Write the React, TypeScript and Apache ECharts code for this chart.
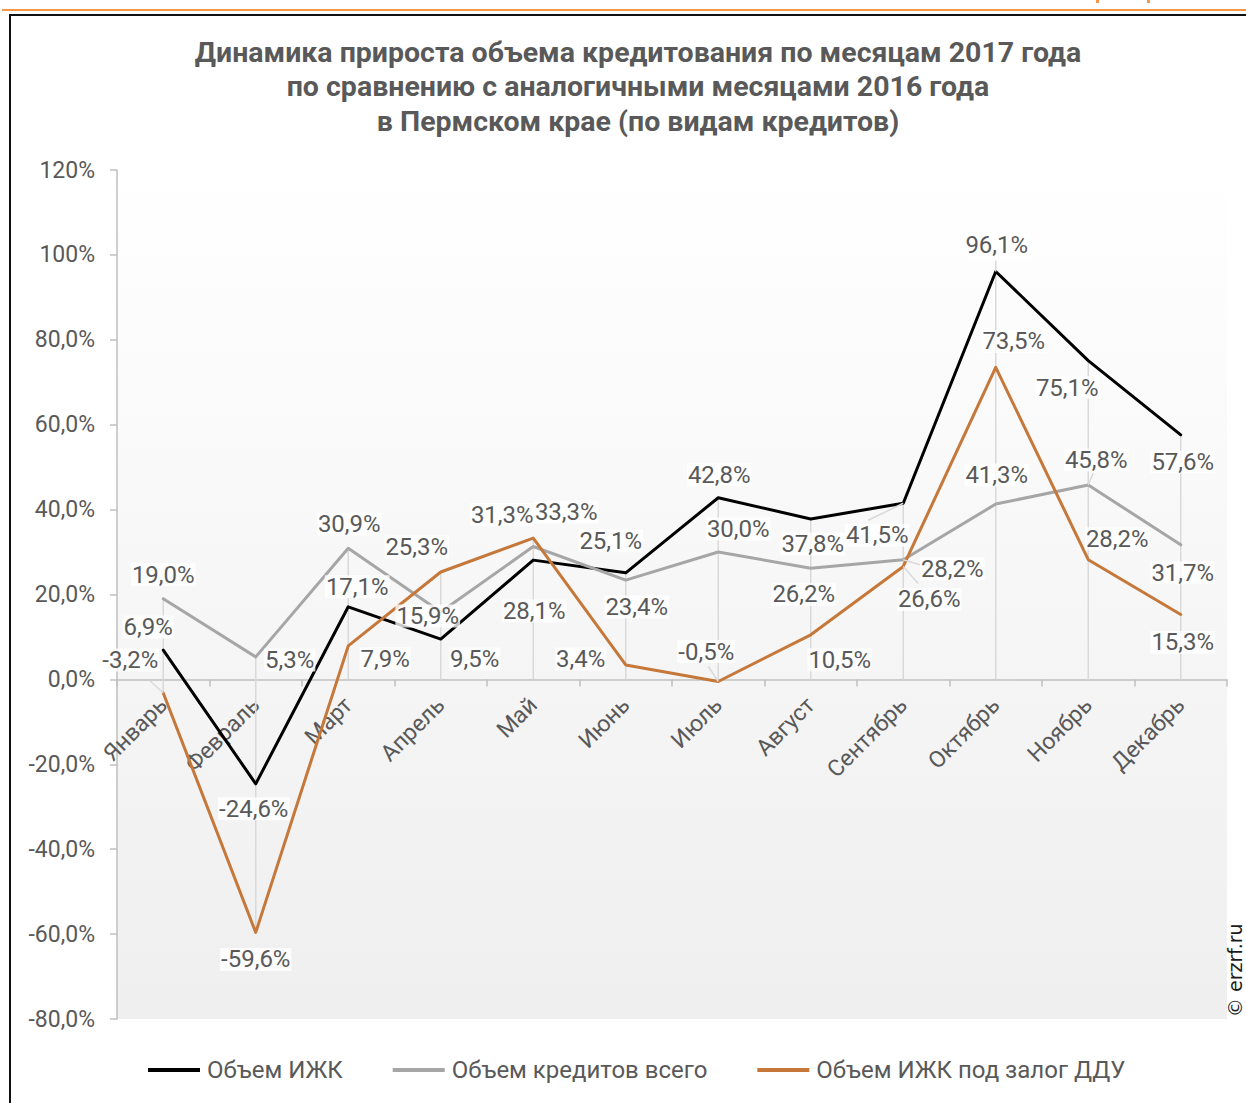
import React, { useEffect, useRef } from "react";
import * as echarts from "echarts";

const categories = ["Январь", "Февраль", "Март", "Апрель", "Май", "Июнь", "Июль", "Август", "Сентябрь", "Октябрь", "Ноябрь", "Декабрь"];
const seriesNames = ["Объем ИЖК", "Объем кредитов всего", "Объем ИЖК под залог ДДУ"];
const izhk = [6.9, -24.6, 17.1, 9.5, 28.1, 25.1, 42.8, 37.8, 41.5, 96.1, 75.1, 57.6];
const totalCredit = [19.0, 5.3, 30.9, 15.9, 31.3, 23.4, 30.0, 26.2, 28.2, 41.3, 45.8, 31.7];
const izhkDdu = [-3.2, -59.6, 7.9, 25.3, 33.3, 3.4, -0.5, 10.5, 26.6, 73.5, 28.2, 15.3];
const yMin = -80;
const yMax = 120;
const yStep = 20;

// styling: colours and per-point label offsets (pixels from the point)
const colors = ["#000000", "#a6a6a6", "#c5783a"];
const labelOffsets = [
  [[-15, -23], [-2, 25], [9, -20], [34, 20], [1, 51], [-15, -32], [1, -23], [2, 25], [-26, 32], [1, -26], [-21, 27], [2, 27]],
  [[0, -24], [34, 3], [1, -24], [-13, 4], [-31, -32], [11, 27], [20, -23], [-7, 26], [49, 9], [1, -29], [8, -25], [2, 28]],
  [[-33, -33], [0, 27], [37, 13], [-24, -25], [33, -26], [-45, -6], [-12, -30], [29, 25], [26, 33], [18, -26], [29, -21], [2, 28]],
];
const leaders = [
  { s: 2, i: 0, dx: -13, dy: -12 },
  { s: 0, i: 8, dx: -35, dy: 17 },
  { s: 2, i: 8, dx: 15, dy: 17 },
  { s: 1, i: 8, dx: 20, dy: 6 },
  { s: 2, i: 6, dx: -10, dy: -15 },
  { s: 1, i: 10, dx: 5, dy: -12 },
  { s: 0, i: 9, dx: 0, dy: -11 },
];

const allSeries = [izhk, totalCredit, izhkDdu];
const fmt = (v: number) => v.toFixed(1).replace(".", ",") + "%";
const FONT = "Roboto";
const TXT = "#595959";

const W = 1246;
const H = 1103;
const GRID = { left: 117, right: 19, top: 170, bottom: 84 };

export default function App() {
  const ref = useRef<HTMLDivElement>(null);
  useEffect(() => {
    if (!ref.current) return;
    const chart = echarts.init(ref.current, null, { renderer: "svg" });

    const plotH = H - GRID.top - GRID.bottom;
    const zeroFromBottom = (plotH * (0 - yMin)) / (yMax - yMin);
    const xLabelMargin = 22 - zeroFromBottom;

    const dropData = categories.map((_, i) => {
      const vals = allSeries.map((s) => s[i]);
      return [i, Math.max(0, ...vals), Math.min(0, ...vals)];
    });
    const leaderData = leaders.map((l) => [l.i, allSeries[l.s][l.i], l.dx, l.dy]);

    const lineSeries = allSeries.map((data, k) => ({
      type: "line",
      name: seriesNames[k],
      data,
      z: 3 + k,
      symbol: "none",
      silent: true,
      color: colors[k],
      lineStyle: { color: colors[k], width: 3, cap: "round", join: "round" },
      itemStyle: { color: colors[k] },
    }));

    const labelSeries = allSeries.map((data, k) => ({
      type: "line",
      name: "lbl" + k,
      z: 10,
      silent: true,
      symbol: "circle",
      symbolSize: 1,
      showSymbol: true,
      lineStyle: { opacity: 0, width: 0 },
      itemStyle: { color: "rgba(0,0,0,0)" },
      data: data.map((v, i) => ({
        value: v,
        label: {
          show: true,
          position: "inside",
          offset: labelOffsets[k][i],
          formatter: () => fmt(v),
          color: TXT,
          fontFamily: FONT,
          fontSize: 24,
          backgroundColor: "rgba(255,255,255,0.78)",
          padding: [0, 1, -1, 1],
        },
      })),
    }));

    const option: any = {
      animation: false,
      backgroundColor: "#ffffff",
      title: {
        text: "Динамика прироста объема кредитования по месяцам 2017 года\nпо сравнению с аналогичными месяцами 2016 года\nв Пермском крае (по видам кредитов)",
        left: 633,
        top: 30,
        textAlign: "center",
        textStyle: { fontFamily: FONT, fontWeight: "bold", fontSize: 28.5, color: TXT, lineHeight: 34.5 },
      },
      legend: {
        data: seriesNames,
        left: 143,
        top: 1051,
        icon: "rect",
        itemWidth: 52,
        itemHeight: 4,
        itemGap: 50,
        textStyle: { fontFamily: FONT, fontSize: 24, color: TXT, lineHeight: 28, padding: [0, 0, 0, 2] },
      },
      grid: {
        left: GRID.left,
        right: GRID.right,
        top: GRID.top,
        bottom: GRID.bottom,
        containLabel: false,
        outerBoundsMode: "none",
        show: true,
        borderWidth: 0,
        backgroundColor: new echarts.graphic.LinearGradient(0, 0, 0, 1, [
          { offset: 0, color: "#ffffff" },
          { offset: 0.6, color: "#f5f5f5" },
          { offset: 1, color: "#efefef" },
        ]),
      },
      xAxis: {
        type: "category",
        data: categories,
        boundaryGap: true,
        axisLine: { onZero: true, lineStyle: { color: "#bfbfbf", width: 1.5 } },
        axisTick: { show: true, length: 7, lineStyle: { color: "#bfbfbf", width: 1.5 } },
        axisLabel: { rotate: 45, margin: xLabelMargin, color: TXT, fontFamily: FONT, fontSize: 23, interval: 0 },
        splitLine: { show: false },
      },
      yAxis: {
        type: "value",
        min: yMin,
        max: yMax,
        interval: yStep,
        axisLine: { show: true, lineStyle: { color: "#bfbfbf", width: 1.5 } },
        axisTick: { show: true, length: 7, lineStyle: { color: "#bfbfbf", width: 1.5 } },
        axisLabel: {
          margin: 22,
          color: TXT,
          fontFamily: FONT,
          fontSize: 23,
          formatter: (v: number) => (v >= 100 ? v + "%" : fmt(v)),
        },
        splitLine: { show: false },
      },
      series: [
        {
          type: "custom",
          name: "drop",
          silent: true,
          z: 2,
          data: dropData,
          encode: { x: 0, y: [1, 2] },
          renderItem: (params: any, api: any) => {
            const p1 = api.coord([api.value(0), api.value(1)]);
            const p2 = api.coord([api.value(0), api.value(2)]);
            return {
              type: "line",
              shape: { x1: p1[0], y1: p1[1], x2: p2[0], y2: p2[1] },
              style: { stroke: "#d9d9d9", lineWidth: 1.5 },
            };
          },
        },
        {
          type: "custom",
          name: "leaders",
          silent: true,
          z: 9,
          data: leaderData,
          encode: { x: 0, y: 1 },
          renderItem: (params: any, api: any) => {
            const p = api.coord([api.value(0), api.value(1)]);
            return {
              type: "line",
              shape: { x1: p[0], y1: p[1], x2: p[0] + api.value(2), y2: p[1] + api.value(3) },
              style: { stroke: "#d9d9d9", lineWidth: 1.5 },
            };
          },
        },
        ...lineSeries,
        ...labelSeries,
      ],
      graphic: [
        { type: "rect", silent: true, shape: { x: 2, y: 9, width: 1244, height: 2 }, style: { fill: "#f79646" } },
        { type: "rect", silent: true, shape: { x: 1096, y: 0, width: 3, height: 3 }, style: { fill: "#f79646" } },
        { type: "rect", silent: true, shape: { x: 1147, y: 0, width: 3, height: 3 }, style: { fill: "#f79646" } },
        { type: "rect", silent: true, shape: { x: 10, y: 15, width: 1300, height: 1200 }, style: { fill: "none", stroke: "#111111", lineWidth: 2 } },
        {
          type: "text",
          silent: true,
          x: 1244,
          y: 1017,
          rotation: Math.PI / 2,
          style: { text: "© erzrf.ru", font: '19px "DejaVu Sans"', fill: "#1a1a1a", textAlign: "left", textVerticalAlign: "bottom", align: "left", verticalAlign: "bottom" },
        },
      ],
    };
    chart.setOption(option);
    return () => chart.dispose();
  }, []);
  return <div ref={ref} style={{ position: "absolute", left: 0, top: 0, width: W, height: H }} />;
}
